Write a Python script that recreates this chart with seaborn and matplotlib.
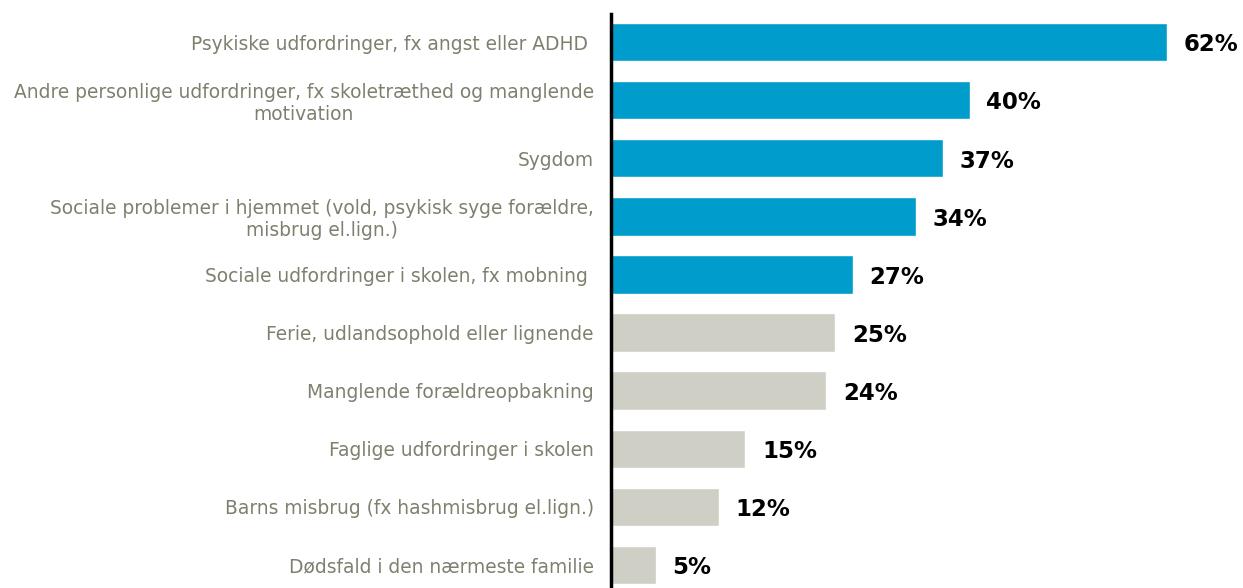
import matplotlib
matplotlib.use("Agg")
import matplotlib.pyplot as plt
import seaborn as sns
import pandas as pd

categories = [
    "Psykiske udfordringer, fx angst eller ADHD ",
    "Andre personlige udfordringer, fx skoletræthed og manglende\nmotivation",
    "Sygdom",
    "Sociale problemer i hjemmet (vold, psykisk syge forældre,\nmisbrug el.lign.)",
    "Sociale udfordringer i skolen, fx mobning ",
    "Ferie, udlandsophold eller lignende",
    "Manglende forældreopbakning",
    "Faglige udfordringer i skolen",
    "Barns misbrug (fx hashmisbrug el.lign.)",
    "Dødsfald i den nærmeste familie",
]
values = [62, 40, 37, 34, 27, 25, 24, 15, 12, 5]
groups = ["top", "top", "top", "top", "top", "rest", "rest", "rest", "rest", "rest"]

df = pd.DataFrame({"cat": categories, "val": values, "grp": groups})

sns.set_style("white")
plt.rcParams["font.family"] = ["DejaVu Sans"]

fig = plt.figure(figsize=(12.43, 5.88), dpi=100)
ax = fig.add_axes([611 / 1243, 0.0, 1 - 611 / 1243, 574 / 588])

sns.barplot(data=df, y="cat", x="val", hue="grp", orient="h",
            palette={"top": "#009DCC", "rest": "#CFCFC6"},
            dodge=False, width=0.66, legend=False, ax=ax, saturation=1)

ax.set_xlim(0, 70.5)
ax.set_ylim(9.396, -0.482)
ax.set_xlabel("")
ax.set_ylabel("")
ax.set_xticks([])
for s in ["top", "right", "bottom"]:
    ax.spines[s].set_visible(False)
ax.spines["left"].set_color("black")
ax.spines["left"].set_linewidth(2.5)
ax.tick_params(axis="y", length=0, pad=12.5)
for lbl in ax.get_yticklabels():
    lbl.set_color("#7F7F6E")
    lbl.set_fontsize(13.4)
    lbl.set_horizontalalignment("right")
    lbl.set_multialignment("center")

for i, v in enumerate(values):
    ax.annotate(f"{v}%", xy=(v, i), xytext=(12, -2), textcoords="offset points",
                va="center", ha="left", fontsize=16.5, fontweight="bold", color="black")

fig.savefig("out.png", dpi=100)
